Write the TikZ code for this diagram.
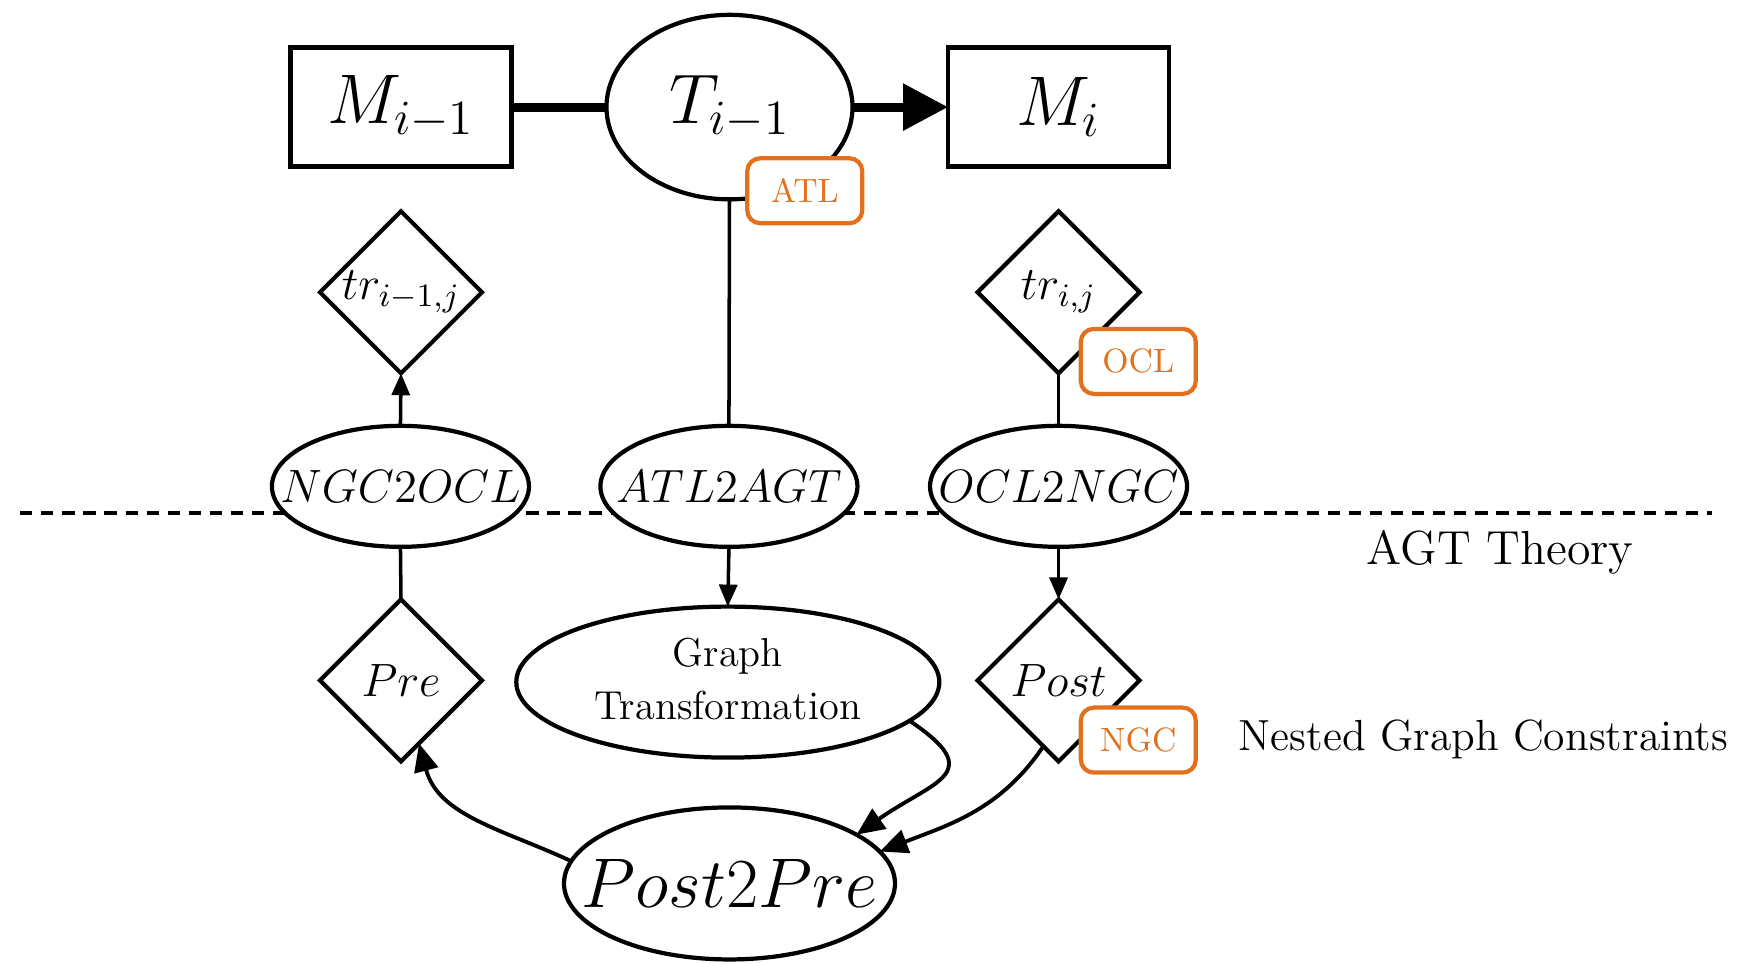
\RequirePackage{fix-cm}
\documentclass[tikz,border=0pt]{standalone}
\usetikzlibrary{shapes.geometric,arrows.meta}
\definecolor{lblorange}{RGB}{226,112,28}
\begin{document}
\begin{tikzpicture}[x=0.011154cm,y=0.011154cm,
  every node/.style={inner sep=0pt, outer sep=0pt},
  boxnode/.style={draw, line width=1.2pt, fill=white, minimum width=2.21cm, minimum height=1.19cm, font=\fontsize{20}{24}\selectfont},
  bigell/.style={draw, ellipse, line width=1.2pt, fill=white},
  diam/.style={draw, diamond, line width=1.2pt, fill=white, minimum width=1.62cm, minimum height=1.62cm, font=\fontsize{13.3}{16}\selectfont},
  smallell/.style={draw, ellipse, line width=1.2pt, fill=white, minimum width=2.57cm, minimum height=1.21cm, font=\fontsize{13.3}{16}\selectfont},
  tag/.style={draw=lblorange, text=lblorange, line width=1.2pt, rounded corners=0.13cm, fill=white, minimum width=1.15cm, minimum height=0.65cm, font=\fontsize{9.6}{11}\selectfont},
  conn/.style={line width=1pt},
  arr/.style={conn, -{Triangle[length=0.22cm,width=0.18cm]}},
  carr/.style={line width=1.1pt, -{Triangle[length=0.28cm,width=0.24cm]}},
  thickconn/.style={line width=2.6pt},
]
\useasboundingbox (0,0) rectangle (1568,-864);

% separator
\coordinate (dl) at (18,-460);
\coordinate (dr) at (1535,-460);
\draw[line width=1pt, dash pattern=on 3.5pt off 2.5pt] (dl) -- (dr);

% top row
\node[boxnode] (Mp) at (359.5,-96) {$M_{i-1}$};
\node[bigell, minimum width=2.46cm, minimum height=1.845cm, font=\fontsize{20}{24}\selectfont] (T) at (654,-96) {\makebox[0pt]{$T_{i-1}$}};
\node[boxnode] (Mi) at (949,-96) {$M_i$};

% diamonds
\node[diam] (trp) at (359.5,-262) {\makebox[0pt]{$tr_{i-1,j}$}};
\node[diam] (tri) at (949,-262) {\makebox[0pt]{$tr_{i,j}$}};
\node[diam] (Pre) at (359.5,-610) {\makebox[0pt]{$Pre$}};
\node[diam] (Post) at (949,-610) {\makebox[0pt]{$Post$}};

% middle ellipses
\node[smallell] (N2O) at (359,-436) {\makebox[0pt]{$NGC2OCL$}};
\node[smallell] (A2A) at (653.5,-436) {\makebox[0pt]{$ATL2AGT$}};
\node[smallell] (O2N) at (949,-436) {\makebox[0pt]{$OCL2NGC$}};

% bottom ellipses
\node[bigell, minimum width=4.23cm, minimum height=1.51cm, font=\fontsize{11.5}{15}\selectfont] (GT) at (652.5,-611.5) {\makebox[0pt]{\begin{tabular}{@{}c@{}}Graph\\Transformation\end{tabular}}};
\node[bigell, minimum width=3.31cm, minimum height=1.52cm, font=\fontsize{20}{24}\selectfont] (P2P) at (654,-792) {\makebox[0pt]{$Post2Pre$}};

% tags
\node[tag] (atl) at (721.5,-171) {ATL};
\node[tag] (ocl) at (1020.5,-324) {OCL};
\node[tag] (ngc) at (1020.5,-663.5) {NGC};

% side labels
\node (agt) at (1345,-495) {\fontsize{13.6}{16}\selectfont AGT Theory};
\node (ngcl) at (1330,-663) {\fontsize{12.4}{14}\selectfont Nested Graph Constraints};

% connectors
\draw[thickconn] (Mp.east) -- (T.west);
\draw[thickconn, -{Triangle[length=0.45cm,width=0.45cm]}] (T.east) -- (Mi.west);
\draw[conn] (T.south) -- (A2A.north);
\draw[arr] (N2O.north) -- (trp.south);
\draw[conn] (O2N.north) -- (tri.south);
\draw[conn] (N2O.south) -- (Pre.north);
\draw[arr] (A2A.south) -- (GT.north);
\draw[arr] (O2N.south) -- (Post.north);
\draw[carr] (GT.-12) to[out=-34, in=35, out distance=0.95cm, in distance=0.95cm] (P2P.21.5);
\draw[carr] (Post.-103) to[out=-124, in=21] (P2P.12);
\draw[carr] (P2P.172) to[out=155, in=-75] (Pre.-74);
\end{tikzpicture}
\end{document}
